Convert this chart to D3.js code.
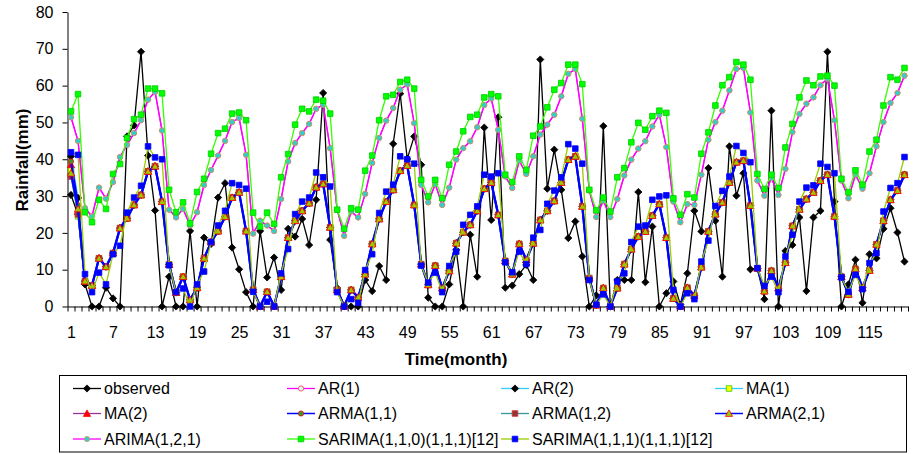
<!DOCTYPE html>
<html>
<head>
<meta charset="utf-8">
<script src="https://cdn.jsdelivr.net/npm/d3@7"></script>
<style>
  body { margin: 0; background: #fff; }
  svg { display: block; }
  text { font-family: Arial, "Liberation Sans", sans-serif; }
</style>
</head>
<body>
<div id="chart"></div>
<script>
// months 1..120, labels every 6th month
const months = d3.range(1, 121);
const xLabels = [1, 7, 13, 19, 25, 31, 37, 43, 49, 55, 61, 67, 73, 79, 85, 91, 97, 103, 109, 115];
const yTicks = [0, 10, 20, 30, 40, 50, 60, 70, 80];

const seriesNames = ['observed', 'AR(1)', 'AR(2)', 'MA(1)', 'MA(2)', 'ARMA(1,1)', 'ARMA(1,2)', 'ARMA(2,1)',
  'ARIMA(1,2,1)', 'SARIMA(1,1,0)(1,1,1)[12]', 'SARIMA(1,1,1)(1,1,1)[12]'];

const observed = [30.3,25,6.0,0,0,5.1,2.2,0,46.2,49.2, 69.2,41.0,26.1,0,8.1,0,0,20.5,0,18.7,
  17.0,29.6,33.5,16.0,10.1,3.9,0,20.5,7.9,13.3, 4.5,21.1,19.0,23.8,16.7,29.0,58.0,18.1,5.0,0,
  0,0,7.2,4.2,11.0,7.2,44.2,57.8,40.1,46.2, 38.5,2.4,0,0,6.0,15.4,0,19.5,8.1,48.6,
  23.5,51.4,5.1,5.7,8.8,11.3,7.2,67.1,32.0,42.6, 31.7,18.6,23.1,13.6,0,3.0,49.0,0,7.2,7.2,
  7.2,31.1,6.6,21.7,0,3.6,6.8,0.5,9.0,26.0, 20.4,37.6,23.3,8.1,43.5,30.1,36.2,10.1,10.4,2.0,
  53.2,0,15.1,16.7,24.2,4.2,24.2,26.0,69.2,28.5, 0,6.0,12.7,1.0,14.2,13.1,21.1,26.7,20.1,12.2];

const ar1 = [51.4,45.0,26.7,24.5,32.3,29.3,33.8,40.6,43.9,47.1, 50.6,56.2,58.3,47.8,26.3,24.2,26.5,22.0,25.6,33.0,
  37.1,41.0,45.0,50.1,51.2,41.2,19.8,23.3,22.0,20.5, 29.2,39.4,44.4,47.1,49.6,53.7,54.8,43.0,26.3,19.2,
  25.8,24.2,30.6,39.0,45.8,50.5,53.9,58.9,60.3,49.8, 33.0,28.3,33.2,27.6,32.3,39.9,43.0,44.9,48.7,54.7,
  56.5,48.0,35.3,32.2,39.6,36.0,40.8,46.7,49.4,52.1, 57.1,63.2,64.5,51.0,31.5,24.3,28.7,24.3,29.2,35.6,
  39.9,42.9,44.9,48.9,52.1,43.3,28.5,22.9,27.8,27.6, 35.8,45.3,50.1,53.2,58.7,64.5,64.8,52.7,34.2,30.1,
  34.9,30.3,37.4,47.4,52.3,55.1,56.8,60.1,61.9,50.6, 34.2,29.4,35.8,32.0,36.2,43.5,50.1,55.3,58.0,62.7];

const ar2 = [40.8,29.5,6.9,5.7,13.1,10.8,14.5,21.3,24.0,27.6, 30.3,36.7,38.1,28.5,11.4,3.8,8.1,1.8,5.1,13.1,
  17.5,20.5,24.4,29.6,31.0,20.5,4.6,0,4.0,0.1, 8.1,18.7,23.3,26.0,28.1,32.4,33.3,21.5,4.5,0.1,
  4.5,2.5,8.8,17.0,23.8,28.5,31.7,36.9,38.3,27.6, 11.5,5.9,11.1,5.0,9.7,17.2,20.2,22.2,26.0,32.0,
  33.7,24.9,12.4,8.8,17.0,12.7,17.2,23.5,26.0,28.7, 33.7,39.9,40.8,27.2,7.7,0.4,5.0,0.1,5.0,11.5,
  15.6,19.0,20.4,24.7,27.8,18.7,2.2,0.1,5.1,3.0, 10.7,20.4,25.1,28.3,33.7,39.2,39.6,27.4,10.4,4.2,
  9.7,5.0,11.9,21.9,26.4,29.2,31.0,34.2,35.8,24.5, 8.1,3.3,10.2,5.1,9.8,16.9,23.3,29.0,31.5,35.8];

const ma1 = [37.1,24.5,6.9,5.7,13.1,10.8,14.5,21.3,24.0,27.6, 30.3,36.7,38.1,28.5,11.4,3.8,8.1,1.8,5.1,13.1,
  17.5,20.5,24.4,29.6,31.0,20.5,4.6,0,4.0,0.1, 8.1,18.7,23.3,26.0,28.1,32.4,33.3,21.5,4.5,0.1,
  4.5,2.5,8.8,17.0,23.8,28.5,31.7,36.9,38.3,27.6, 11.5,5.9,11.1,5.0,9.7,17.2,20.2,22.2,26.0,32.0,
  33.7,24.9,12.4,8.8,17.0,12.7,17.2,23.5,26.0,28.7, 33.7,39.9,40.8,27.2,7.7,0.4,5.0,0.1,5.0,11.5,
  15.6,19.0,20.4,24.7,27.8,18.7,2.2,0.1,5.1,3.0, 10.7,20.4,25.1,28.3,33.7,39.2,39.6,27.4,10.4,4.2,
  9.7,5.0,11.9,21.9,26.4,29.2,31.0,34.2,35.8,24.5, 8.1,3.3,10.2,5.1,9.8,16.9,23.3,29.0,31.5,35.8];

const ma2 = [38.5,26.0,6.9,5.7,13.1,10.8,14.5,21.3,24.0,27.6, 30.3,36.7,38.1,28.5,11.4,3.8,8.1,1.8,5.1,13.1,
  17.5,20.5,24.4,29.6,31.0,20.5,4.6,0,4.0,0.1, 8.1,18.7,23.3,26.0,28.1,32.4,33.3,21.5,4.5,0.1,
  4.5,2.5,8.8,17.0,23.8,28.5,31.7,36.9,38.3,27.6, 11.5,5.9,11.1,5.0,9.7,17.2,20.2,22.2,26.0,32.0,
  33.7,24.9,12.4,8.8,17.0,12.7,17.2,23.5,26.0,28.7, 33.7,39.9,40.8,27.2,7.7,0.4,5.0,0.1,5.0,11.5,
  15.6,19.0,20.4,24.7,27.8,18.7,2.2,0.1,5.1,3.0, 10.7,20.4,25.1,28.3,33.7,39.2,39.6,27.4,10.4,4.2,
  9.7,5.0,11.9,21.9,26.4,29.2,31.0,34.2,35.8,24.5, 8.1,3.3,10.2,5.1,9.8,16.9,23.3,29.0,31.5,35.8];

const arma11 = [39.4,27.5,6.9,5.7,13.1,10.8,14.5,21.3,24.0,27.6, 30.3,36.7,38.1,28.5,11.4,3.8,8.1,1.8,5.1,13.1,
  17.5,20.5,24.4,29.6,31.0,20.5,4.6,0,4.0,0.1, 8.1,18.7,23.3,26.0,28.1,32.4,33.3,21.5,4.5,0.1,
  4.5,2.5,8.8,17.0,23.8,28.5,31.7,36.9,38.3,27.6, 11.5,5.9,11.1,5.0,9.7,17.2,20.2,22.2,26.0,32.0,
  33.7,24.9,12.4,8.8,17.0,12.7,17.2,23.5,26.0,28.7, 33.7,39.9,40.8,27.2,7.7,0.4,5.0,0.1,5.0,11.5,
  15.6,19.0,20.4,24.7,27.8,18.7,2.2,0.1,5.1,3.0, 10.7,20.4,25.1,28.3,33.7,39.2,39.6,27.4,10.4,4.2,
  9.7,5.0,11.9,21.9,26.4,29.2,31.0,34.2,35.8,24.5, 8.1,3.3,10.2,5.1,9.8,16.9,23.3,29.0,31.5,35.8];

const arma12 = [35.3,25.0,6.9,5.7,13.1,10.8,14.5,21.3,24.0,27.6, 30.3,36.7,38.1,28.5,11.4,3.8,8.1,1.8,5.1,13.1,
  17.5,20.5,24.4,29.6,31.0,20.5,4.6,0,4.0,0.1, 8.1,18.7,23.3,26.0,28.1,32.4,33.3,21.5,4.5,0.1,
  4.5,2.5,8.8,17.0,23.8,28.5,31.7,36.9,38.3,27.6, 11.5,5.9,11.1,5.0,9.7,17.2,20.2,22.2,26.0,32.0,
  33.7,24.9,12.4,8.8,17.0,12.7,17.2,23.5,26.0,28.7, 33.7,39.9,40.8,27.2,7.7,0.4,5.0,0.1,5.0,11.5,
  15.6,19.0,20.4,24.7,27.8,18.7,2.2,0.1,5.1,3.0, 10.7,20.4,25.1,28.3,33.7,39.2,39.6,27.4,10.4,4.2,
  9.7,5.0,11.9,21.9,26.4,29.2,31.0,34.2,35.8,24.5, 8.1,3.3,10.2,5.1,9.8,16.9,23.3,29.0,31.5,35.8];

const arma21 = [36.2,26.5,6.9,5.7,13.1,10.8,14.5,21.3,24.0,27.6, 30.3,36.7,38.1,28.5,11.4,3.8,8.1,1.8,5.1,13.1,
  17.5,20.5,24.4,29.6,31.0,20.5,4.6,0,4.0,0.1, 8.1,18.7,23.3,26.0,28.1,32.4,33.3,21.5,4.5,0.1,
  4.5,2.5,8.8,17.0,23.8,28.5,31.7,36.9,38.3,27.6, 11.5,5.9,11.1,5.0,9.7,17.2,20.2,22.2,26.0,32.0,
  33.7,24.9,12.4,8.8,17.0,12.7,17.2,23.5,26.0,28.7, 33.7,39.9,40.8,27.2,7.7,0.4,5.0,0.1,5.0,11.5,
  15.6,19.0,20.4,24.7,27.8,18.7,2.2,0.1,5.1,3.0, 10.7,20.4,25.1,28.3,33.7,39.2,39.6,27.4,10.4,4.2,
  9.7,5.0,11.9,21.9,26.4,29.2,31.0,34.2,35.8,24.5, 8.1,3.3,10.2,5.1,9.8,16.9,23.3,29.0,31.5,35.8];

const arima121 = [51.4,45.0,26.7,24.5,32.3,29.3,33.8,40.6,43.9,47.1, 50.6,56.2,58.3,47.8,26.3,24.2,26.5,22.0,25.6,33.0,
  37.1,41.0,45.0,50.1,51.2,41.2,19.8,23.3,22.0,20.5, 29.2,39.4,44.4,47.1,49.6,53.7,54.8,43.0,26.3,19.2,
  25.8,24.2,30.6,39.0,45.8,50.5,53.9,58.9,60.3,49.8, 33.0,28.3,33.2,27.6,32.3,39.9,43.0,44.9,48.7,54.7,
  56.5,48.0,35.3,32.2,39.6,36.0,40.8,46.7,49.4,52.1, 57.1,63.2,64.5,51.0,31.5,24.3,28.7,24.3,29.2,35.6,
  39.9,42.9,44.9,48.9,52.1,43.3,28.5,22.9,27.8,27.6, 35.8,45.3,50.1,53.2,58.7,64.5,64.8,52.7,34.2,30.1,
  34.9,30.3,37.4,47.4,52.3,55.1,56.8,60.1,61.9,50.6, 34.2,29.4,35.8,32.0,36.2,43.5,50.1,55.3,58.0,62.7];

const sarima110 = [53.0,57.7,25.6,22.9,29.0,26.5,36.0,38.7,45.8,50.9, 52.1,59.2,59.2,57.9,31.7,25.6,28.3,22.6,31.1,34.7,
  41.5,47.1,48.3,52.4,52.7,50.6,25.5,21.7,25.5,22.4, 35.1,41.4,49.4,53.7,53.0,56.2,55.9,52.4,26.3,21.1,
  26.7,26.3,36.9,41.0,50.6,57.1,57.5,61.0,61.6,59.2, 34.4,29.9,34.4,29.4,38.5,42.1,47.6,51.5,52.1,56.8,
  57.7,57.1,35.8,33.8,40.8,37.1,46.4,48.9,54.1,58.9, 60.7,65.7,65.7,60.4,31.7,26.1,29.6,25.8,35.1,37.6,
  44.6,49.9,48.0,51.7,53.2,52.6,29.4,24.9,30.5,29.6, 41.5,47.3,54.6,60.1,62.3,66.4,65.7,61.6,36.0,31.9,
  35.8,32.2,43.2,49.6,56.8,61.4,60.1,62.5,62.7,60.0, 34.7,31.0,37.0,33.1,42.1,45.3,54.6,62.3,61.6,64.8];

const sarima111 = [41.9,41.2,8.8,3.9,9.2,6.0,14.2,16.5,25.5,29.6, 32.8,43.5,40.5,40.0,11.2,3.9,4.9,0,6.0,9.5,
  17.5,22.0,26.0,33.5,33.0,32.0,4.0,0,1.3,0, 9.0,15.6,25.1,28.5,29.6,36.4,35.1,32.6,3.9,0,
  2.0,1.0,9.9,14.2,25.4,31.2,33.1,40.8,40.0,38.8, 11.1,6.5,9.2,3.9,11.0,14.9,22.2,24.9,27.2,35.8,
  35.3,36.2,12.0,9.3,14.9,11.5,18.7,20.8,27.9,31.5, 35.1,44.1,42.9,38.8,7.2,0.5,3.3,0,6.8,9.0,
  17.5,21.7,22.0,29.0,29.9,30.2,4.5,0,3.6,2.0, 12.2,17.9,27.3,31.4,35.3,43.6,41.7,39.2,10.4,5.6,
  8.1,3.9,13.6,19.5,28.5,32.3,32.9,38.8,37.9,36.2, 7.9,4.0,8.6,4.7,11.8,14.5,25.8,32.2,33.5,40.6];

const seriesValues = [observed, ar1, ar2, ma1, ma2, arma11, arma12, arma21, arima121, sarima110, sarima111];

// line / marker styles, same order as seriesNames
const styles = [
  { line: '#000000', lw: 1.3, mk: 'diamond', fill: '#000000', stroke: '#000000' },
  { line: '#ff00ff', lw: 1.3, mk: 'circle',  fill: '#ccffff', stroke: '#ff3333' },
  { line: '#33ccff', lw: 1.3, mk: 'diamond', fill: '#000000', stroke: '#000000' },
  { line: '#33ccff', lw: 1.3, mk: 'square',  fill: '#ffff00', stroke: '#33cc00' },
  { line: '#993399', lw: 1.3, mk: 'triangle', fill: '#ff0000', stroke: '#ff0000' },
  { line: '#0000ff', lw: 2.2, mk: 'circle',  fill: '#339933', stroke: '#ff0000' },
  { line: '#339999', lw: 1.3, mk: 'square',  fill: '#993333', stroke: '#cc3333' },
  { line: '#0000ff', lw: 2.2, mk: 'triangle', fill: '#99cc00', stroke: '#ff0000' },
  { line: '#ff00ff', lw: 1.3, mk: 'circle',  fill: '#33cccc', stroke: '#cc9966' },
  { line: '#33ff00', lw: 1.3, mk: 'square',  fill: '#00ff00', stroke: '#00cc00' },
  { line: '#99cc00', lw: 1.3, mk: 'square',  fill: '#0000ff', stroke: '#0000ff' }
];

const W = 915, H = 454;
const FONT = 'Arial, "Liberation Sans", sans-serif';

const svg = d3.select('#chart').append('svg')
  .attr('width', W).attr('height', H)
  .style('background', '#fff');

const x = d3.scaleLinear().domain([0.5, 120.5]).range([67.5, 908]);
const y = d3.scaleLinear().domain([0, 80]).range([306.5, 12]);

function markerPath(type, cx, cy) {
  if (type === 'square') {
    const s = 2.8;
    return `M${cx - s},${cy - s}h${2 * s}v${2 * s}h${-2 * s}Z`;
  }
  if (type === 'diamond') {
    const s = 3.6;
    return `M${cx},${cy - s}L${cx + s},${cy}L${cx},${cy + s}L${cx - s},${cy}Z`;
  }
  if (type === 'triangle') {
    const s = 3.6;
    return `M${cx},${cy - s}L${cx + s},${cy + s * 0.8}L${cx - s},${cy + s * 0.8}Z`;
  }
  const r = 2.6;
  return `M${cx - r},${cy}a${r},${r} 0 1,0 ${2 * r},0a${r},${r} 0 1,0 ${-2 * r},0Z`;
}

// axes
const yAxis = d3.axisLeft(y).tickValues(yTicks).tickSize(5).tickSizeOuter(0).tickPadding(9);
const yG = svg.append('g').attr('transform', 'translate(67.5,0)').call(yAxis);
yG.selectAll('text').attr('font-size', 16).attr('font-family', FONT).attr('fill', '#000');
yG.selectAll('line, path').attr('stroke', '#000');

const bounds = d3.range(0, 121).map(d => d + 0.5);
const xAxis = d3.axisBottom(x).tickValues(bounds).tickSize(5).tickSizeOuter(0).tickFormat('');
const xG = svg.append('g').attr('transform', 'translate(0,306.5)').call(xAxis);
xG.selectAll('line, path').attr('stroke', '#000');

const xLab = d3.axisBottom(x).tickValues(xLabels).tickSize(0).tickPadding(20);
const xl = svg.append('g').attr('transform', 'translate(0,306.5)').call(xLab);
xl.select('.domain').remove();
xl.selectAll('text').attr('font-size', 16).attr('font-family', FONT).attr('fill', '#000');

svg.append('text').text('Time(month)')
  .attr('x', 456).attr('y', 365).attr('text-anchor', 'middle')
  .attr('font-size', 17).attr('font-weight', 'bold').attr('font-family', FONT);

svg.append('text').text('Rainfall(mm)')
  .attr('transform', 'translate(28,160) rotate(-90)').attr('text-anchor', 'middle')
  .attr('font-size', 17).attr('font-weight', 'bold').attr('font-family', FONT);

// series, later ones drawn on top
const plot = svg.append('g');
const line = d3.line().x((d, i) => x(months[i])).y(d => y(d));

seriesValues.forEach((vals, k) => {
  const st = styles[k];
  const g = plot.append('g');
  g.append('path').attr('d', line(vals))
    .attr('fill', 'none').attr('stroke', st.line).attr('stroke-width', st.lw)
    .attr('stroke-linejoin', 'round');
  g.selectAll('path.m').data(vals).join('path').attr('class', 'm')
    .attr('d', (d, i) => markerPath(st.mk, x(months[i]), y(d)))
    .attr('fill', st.fill).attr('stroke', st.stroke).attr('stroke-width', 0.8);
});

// legend
const legend = svg.append('g');
legend.append('rect').attr('x', 59.5).attr('y', 375.5).attr('width', 847).attr('height', 76.5)
  .attr('fill', '#fff').attr('stroke', '#000').attr('stroke-width', 1);

const colX = [73, 287, 501, 715];
const rowY = [388.5, 413.5, 439];

seriesNames.forEach((name, k) => {
  const st = styles[k];
  const cx = colX[k % 4], cy = rowY[Math.floor(k / 4)];
  legend.append('line').attr('x1', cx).attr('x2', cx + 28).attr('y1', cy).attr('y2', cy)
    .attr('stroke', st.line).attr('stroke-width', Math.min(st.lw, 1.5));
  legend.append('path').attr('d', markerPath(st.mk, cx + 14, cy))
    .attr('fill', st.fill).attr('stroke', st.stroke).attr('stroke-width', 0.8);
  legend.append('text').text(name)
    .attr('x', cx + 31).attr('y', cy).attr('dy', '0.35em')
    .attr('font-size', 16).attr('font-family', FONT).attr('fill', '#000');
});
</script>
</body>
</html>
